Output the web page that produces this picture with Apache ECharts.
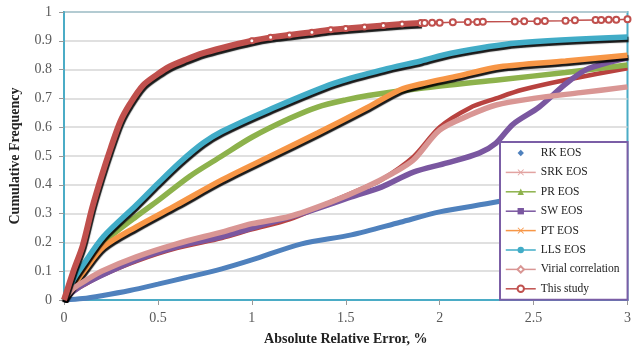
<!DOCTYPE html>
<html>
<head>
<meta charset="utf-8">
<script src="https://cdn.jsdelivr.net/npm/echarts@6/dist/echarts.min.js"></script>
<style>
  html, body { margin: 0; padding: 0; background: #fff; }
  #chart { width: 634px; height: 351px; }
</style>
</head>
<body>
<div id="chart"></div>
<script>
// values, [error %, cumulative frequency]
var rkEos = [[0,0],[0.1,0.005],[0.2,0.015],[0.35,0.033],[0.5,0.055],[0.65,0.078],[0.84,0.108],[1.0,0.139],[1.265,0.195],[1.53,0.226],[1.79,0.27],[2.0,0.306],[2.3,0.34],[2.6,0.38],[2.8,0.41],[3.0,0.458]];
var srkEos = [[0,0],[0.05,0.03],[0.1,0.05],[0.2,0.085],[0.385,0.135],[0.6,0.18],[0.84,0.215],[1.0,0.245],[1.2,0.28],[1.42,0.34],[1.6,0.39],[1.69,0.417],[1.86,0.497],[2.0,0.6],[2.16,0.667],[2.3,0.7],[2.44,0.73],[2.67,0.764],[3.0,0.805]];
var prEos = [[0,0],[0.05,0.05],[0.105,0.1],[0.21,0.198],[0.385,0.29],[0.5,0.345],[0.67,0.43],[0.84,0.5],[1.0,0.565],[1.2,0.63],[1.35,0.67],[1.5,0.695],[1.62,0.71],[1.9,0.735],[2.32,0.765],[2.67,0.79],[3.0,0.816]];
var swEos = [[0,0],[0.05,0.03],[0.12,0.06],[0.385,0.139],[0.6,0.185],[0.84,0.219],[1.0,0.25],[1.265,0.3],[1.53,0.358],[1.69,0.392],[1.86,0.444],[2.04,0.476],[2.21,0.51],[2.3,0.545],[2.39,0.61],[2.53,0.67],[2.67,0.75],[2.78,0.8],[2.9,0.825],[3.0,0.84]];
var ptEos = [[0,0],[0.05,0.05],[0.105,0.1],[0.21,0.184],[0.385,0.254],[0.6,0.33],[0.84,0.417],[1.09,0.497],[1.35,0.58],[1.62,0.67],[1.79,0.73],[1.9,0.75],[2.1,0.778],[2.32,0.81],[2.67,0.83],[3.0,0.85]];
var llsEos = [[0,0],[0.05,0.07],[0.1,0.12],[0.21,0.22],[0.385,0.33],[0.5,0.405],[0.62,0.48],[0.74,0.545],[0.84,0.585],[1.09,0.66],[1.44,0.753],[1.7,0.8],[1.9,0.83],[2.06,0.857],[2.41,0.892],[3.0,0.913]];
var virial = [[0,0],[0.05,0.04],[0.12,0.07],[0.2,0.1],[0.385,0.15],[0.6,0.195],[0.84,0.236],[1.0,0.265],[1.2,0.29],[1.42,0.34],[1.6,0.39],[1.75,0.44],[1.86,0.486],[2.0,0.59],[2.16,0.642],[2.3,0.677],[2.5,0.7],[2.75,0.72],[3.0,0.74]];
var thisStudy = [[0,0],[0.05,0.1],[0.1,0.19],[0.15,0.32],[0.2,0.43],[0.25,0.53],[0.3,0.62],[0.35,0.68],[0.42,0.745],[0.5,0.785],[0.56,0.81],[0.65,0.835],[0.74,0.857],[0.84,0.875],[1.0,0.9],[1.1,0.912],[1.2,0.92],[1.32,0.93],[1.42,0.938],[1.5,0.943],[1.6,0.948],[1.7,0.953],[1.8,0.958],[1.9,0.962]];
var thisStudyTail = [[1.9,0.962],[1.92,0.962],[1.96,0.963],[2.0,0.963],[2.07,0.964],[2.15,0.965],[2.2,0.965],[2.23,0.966],[2.4,0.967],[2.45,0.968],[2.52,0.968],[2.56,0.969],[2.67,0.97],[2.72,0.971],[2.83,0.972],[2.86,0.972],[2.9,0.973],[2.94,0.973],[3.0,0.975]];

var xTicks = [0, 0.5, 1, 1.5, 2, 2.5, 3];
var seriesNames = ['RK EOS', 'SRK EOS', 'PR EOS', 'SW EOS', 'PT EOS', 'LLS EOS', 'Virial correlation', 'This study'];

var serif = 'Liberation Serif';
var xMark = 'path://M0,1 L1,0 L5,4 L9,0 L10,1 L6,5 L10,9 L9,10 L5,6 L1,10 L0,9 L4,5 Z';
var shade = { shadowColor: 'rgba(0,0,0,0.9)', shadowBlur: 1, shadowOffsetX: 1, shadowOffsetY: 2.5 };

function mkLine(name, data, color, width, symbol, withShadow) {
  var ls = { color: color, width: width };
  if (withShadow) { for (var k in shade) ls[k] = shade[k]; }
  return {
    name: name, type: 'line', data: data, symbol: symbol, showSymbol: false,
    itemStyle: { color: color }, lineStyle: ls, smooth: 0.3
  };
}

// this study: markers only show once the points thin out (x >= 1)
var studyMain = mkLine(seriesNames[7], thisStudy.map(function (p) {
  return { value: p, symbolSize: p[0] >= 1 ? 5 : 0 };
}), '#c0504d', 6, 'emptyCircle', true);
studyMain.showSymbol = true;
studyMain.itemStyle = { color: '#c0504d', borderWidth: 1.2 };

var chart = echarts.init(document.getElementById('chart'));
var option = {
  animation: false,
  grid: { left: 60, right: 5, top: 12, bottom: 51, show: true, borderColor: '#4bacc6', borderWidth: 2 },
  xAxis: {
    type: 'value', min: 0, max: 3, interval: 0.5,
    name: 'Absolute Relative Error, %', nameLocation: 'middle', nameGap: 32,
    nameTextStyle: { fontFamily: serif, fontWeight: 'bold', fontSize: 14, color: '#222' },
    axisLine: { lineStyle: { color: '#4bacc6', width: 2 } },
    axisTick: { show: true, length: 5, lineStyle: { color: '#999' } },
    axisLabel: { fontFamily: serif, fontSize: 14, color: '#595959', margin: 11,
      formatter: function (v) { return xTicks.indexOf(v) >= 0 ? String(v) : ''; } },
    splitLine: { show: false }
  },
  yAxis: {
    type: 'value', min: 0, max: 1, interval: 0.1,
    name: 'Cumulative Frequency', nameLocation: 'middle', nameGap: 42,
    nameTextStyle: { fontFamily: serif, fontWeight: 'bold', fontSize: 14, color: '#222' },
    axisLine: { show: true, lineStyle: { color: '#4bacc6', width: 2 } },
    axisTick: { show: true, length: 5, lineStyle: { color: '#999' } },
    axisLabel: { fontFamily: serif, fontSize: 14, color: '#595959', margin: 12 },
    splitLine: { lineStyle: { color: '#d6d6d6', width: 1.5 } }
  },
  legend: {
    orient: 'vertical', left: 500, top: 142,
    padding: [5, 8, 5, 5],
    itemWidth: 30, itemHeight: 8, itemGap: 7.4,
    backgroundColor: '#fff', borderColor: '#7b5ea6', borderWidth: 2,
    lineStyle: { width: 1.5, shadowBlur: 0, shadowOffsetX: 0, shadowOffsetY: 0, shadowColor: 'transparent' },
    textStyle: { fontFamily: serif, fontSize: 11.5, color: '#222', lineHeight: 12 },
    data: [
      { name: seriesNames[0], lineStyle: { opacity: 0 } },
      { name: seriesNames[1], lineStyle: { color: '#e2a3a1' }, itemStyle: { color: '#e2a3a1' } },
      seriesNames[2], seriesNames[3], seriesNames[4], seriesNames[5],
      seriesNames[6], seriesNames[7]
    ]
  },
  series: [
    mkLine(seriesNames[0], rkEos, '#4f81bd', 5, 'diamond', false),
    mkLine(seriesNames[1], srkEos, '#b8423f', 4.5, xMark, false),
    mkLine(seriesNames[2], prEos, '#8db24c', 5.5, 'triangle', false),
    mkLine(seriesNames[3], swEos, '#7a57a0', 5.5, 'rect', false),
    mkLine(seriesNames[4], ptEos, '#f79646', 5.5, xMark, true),
    mkLine(seriesNames[5], llsEos, '#41acc7', 5.5, 'circle', true),
    mkLine(seriesNames[6], virial, '#d99694', 5.5, 'emptyDiamond', false),
    studyMain,
    {
      name: seriesNames[7], type: 'line', data: thisStudyTail,
      symbol: 'emptyCircle', symbolSize: 6, showSymbol: true,
      itemStyle: { color: '#c0504d', borderWidth: 1.5 },
      lineStyle: { color: '#c0504d', width: 1.5 }
    }
  ]
};
chart.setOption(option);
</script>
</body>
</html>
